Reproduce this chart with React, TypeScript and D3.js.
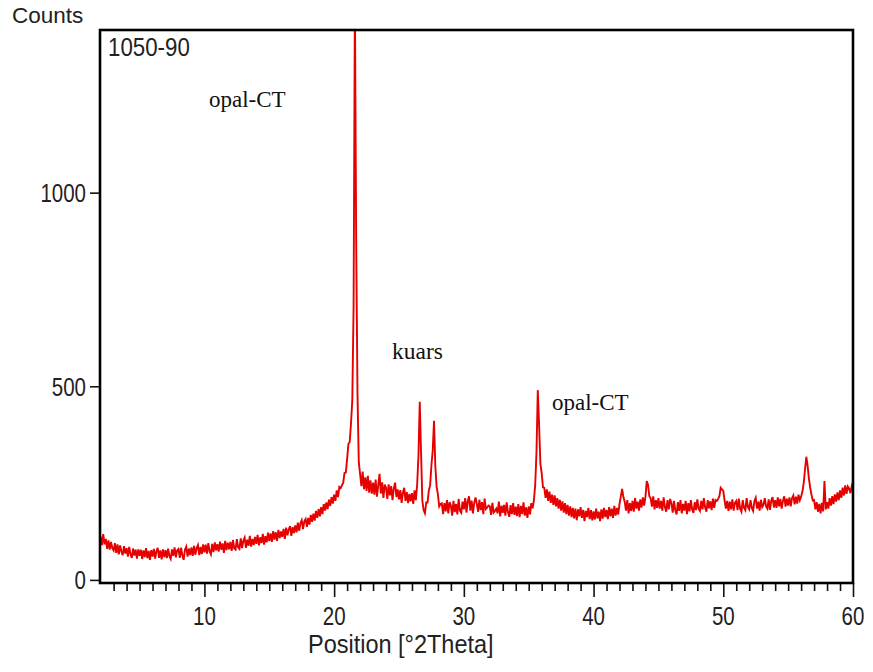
import React, { useEffect, useRef } from 'react';
import * as d3 from 'd3';

// XRD scan, sample 1050-90 (step 0.1 °2Theta starting at 2.0)
const startPos = 2.0;
const stepSize = 0.1;
const counts = [
  112, 90, 118, 92, 106, 80, 102, 78, 98, 82,
  76, 95, 70, 92, 66, 89, 74, 64, 87, 68,
  82, 60, 85, 66, 57, 81, 63, 78, 55, 79,
  62, 78, 54, 76, 59, 82, 56, 75, 52, 77,
  60, 80, 55, 74, 83, 57, 76, 53, 79, 59,
  77, 56, 81, 61, 54, 79, 62, 84, 58, 76,
  80, 57, 83, 63, 52, 78, 86, 60, 81, 64,
  84, 62, 88, 65, 82, 90, 64, 85, 67, 92,
  71, 91, 68, 95, 74, 66, 93, 72, 97, 76,
  92, 73, 99, 78, 94, 70, 101, 77, 96, 79,
  98, 75, 103, 81, 78, 105, 84, 80, 107, 82,
  101, 109, 83, 104, 88, 114, 86, 106, 90, 111,
  93, 116, 89, 110, 95, 119, 91, 113, 97, 122,
  100, 120, 98, 126, 104, 123, 101, 129, 108, 125,
  111, 132, 106, 135, 115, 130, 139, 114, 136, 121,
  141, 123, 148, 127, 146, 154, 131, 151, 157, 137,
  160, 143, 168, 150, 171, 153, 178, 160, 183, 164,
  188, 170, 196, 179, 200, 183, 207, 191, 214, 197,
  220, 204, 231, 214, 240, 237, 244, 251, 276, 277,
  312, 351, 356, 404, 464, 706, 1500, 874, 481, 304,
  274, 242, 280, 234, 265, 230, 269, 225, 257, 223,
  251, 220, 259, 215, 244, 274, 223, 252, 212, 246,
  238, 209, 247, 218, 242, 206, 236, 251, 214, 234,
  208, 232, 199, 225, 238, 204, 227, 198, 222, 203,
  224, 196, 231, 206, 246, 320, 460, 330, 204, 180,
  172, 200, 200, 231, 244, 296, 334, 411, 294, 241,
  221, 190, 196, 198, 170, 198, 177, 206, 172, 201,
  192, 166, 204, 175, 196, 169, 209, 178, 173, 202,
  182, 211, 174, 203, 216, 179, 205, 172, 199, 213,
  196, 176, 207, 180, 201, 170, 210, 183, 187, 192,
  190, 168, 199, 174, 178, 184, 172, 202, 164, 192,
  173, 194, 166, 200, 175, 163, 193, 170, 198, 168,
  189, 165, 196, 162, 191, 170, 200, 166, 187, 160,
  190, 169, 198, 185, 205, 245, 330, 490, 400, 300,
  276, 239, 238, 212, 234, 204, 228, 199, 220, 194,
  218, 190, 211, 184, 207, 179, 203, 174, 198, 170,
  194, 166, 190, 162, 186, 159, 184, 154, 182, 164,
  188, 160, 181, 152, 178, 162, 186, 157, 180, 154,
  177, 156, 184, 159, 176, 152, 182, 158, 186, 162,
  181, 157, 188, 164, 184, 160, 191, 166, 186, 169,
  196, 215, 235, 214, 202, 179, 206, 172, 198, 178,
  204, 176, 211, 184, 202, 179, 208, 187, 213, 192,
  215, 255, 245, 216, 211, 189, 216, 182, 206, 186,
  211, 184, 204, 179, 213, 188, 176, 206, 182, 209,
  198, 174, 204, 180, 169, 201, 178, 206, 172, 196,
  179, 204, 170, 198, 177, 206, 182, 173, 201, 180,
  208, 184, 178, 204, 182, 211, 187, 176, 206, 185,
  203, 180, 210, 186, 206, 204, 209, 216, 238, 234,
  230, 205, 184, 204, 178, 202, 182, 208, 179, 199,
  204, 180, 210, 184, 176, 206, 186, 180, 211, 188,
  182, 206, 186, 178, 204, 212, 184, 202, 179, 207,
  188, 194, 211, 190, 184, 208, 181, 205, 214, 187,
  206, 186, 213, 190, 209, 184, 204, 216, 189, 210,
  192, 213, 190, 211, 218, 195, 215, 197, 220, 206,
  215, 228, 250, 285, 318, 295, 262, 238, 220, 205,
  206, 182, 201, 176, 196, 172, 199, 177, 255, 182,
  201, 184, 211, 192, 216, 196, 221, 202, 226, 206,
  231, 212, 238, 218, 244, 222, 241, 236, 224, 242,
  232
];

const xMajorTicks = [10, 20, 30, 40, 50, 60];
const yTicks = [0, 500, 1000];

const peakLabels = [
  { text: 'opal-CT', x: 209, y: 107, size: 23 },
  { text: 'kuars', x: 392, y: 359, size: 23.5 },
  { text: 'opal-CT', x: 552, y: 410, size: 23 }
];

const SANS = '"Liberation Sans", Arial, sans-serif';
const SERIF = '"Liberation Serif", "Times New Roman", serif';

const App = () => {
  const ref = useRef<SVGSVGElement | null>(null);

  useEffect(() => {
    const width = 873;
    const height = 672;
    const left = 100, right = 853, top = 30, bottom = 583;

    const svg = d3.select(ref.current);
    svg.selectAll('*').remove();
    svg.attr('width', width).attr('height', height);

    const x = d3.scaleLinear().domain([1.95, 60]).range([left, right]);
    const y = d3.scaleLinear().domain([-8, 1420]).range([bottom, top]);

    const data = counts.map((c, i) => ({ pos: startPos + i * stepSize, c }));

    svg.append('defs').append('clipPath').attr('id', 'plotClip')
      .append('rect')
      .attr('x', left).attr('y', top)
      .attr('width', right - left).attr('height', bottom - top);

    const line = d3.line<{ pos: number; c: number }>()
      .x(d => x(d.pos))
      .y(d => y(d.c));

    svg.append('path')
      .datum(data)
      .attr('clip-path', 'url(#plotClip)')
      .attr('fill', 'none')
      .attr('stroke', '#e60000')
      .attr('stroke-width', 1.9)
      .attr('stroke-linejoin', 'miter')
      .attr('d', line);

    // ticks
    const minor = d3.range(3, 61).filter(v => v % 10 !== 0);
    const xMinorAxis = svg.append('g')
      .attr('transform', `translate(0,${bottom})`)
      .call(d3.axisBottom(x).tickValues(minor).tickSize(8).tickFormat(() => ''));
    const xMajorAxis = svg.append('g')
      .attr('transform', `translate(0,${bottom})`)
      .call(d3.axisBottom(x).tickValues(xMajorTicks).tickSize(14).tickFormat(() => ''));
    const yAxis = svg.append('g')
      .attr('transform', `translate(${left},0)`)
      .call(d3.axisLeft(y).tickValues(yTicks).tickSize(10).tickFormat(() => ''));
    [xMinorAxis, xMajorAxis, yAxis].forEach(g => {
      g.select('.domain').remove();
      g.selectAll('line').attr('stroke', '#111').attr('stroke-width', 1.6);
    });

    // frame
    svg.append('rect')
      .attr('x', left).attr('y', top)
      .attr('width', right - left).attr('height', bottom - top)
      .attr('fill', 'none')
      .attr('stroke', '#000')
      .attr('stroke-width', 2.6);

    // tick labels (font in the picture is tall and narrow)
    svg.selectAll('text.xlab')
      .data(xMajorTicks)
      .enter()
      .append('text')
      .attr('class', 'xlab')
      .attr('transform', d => `translate(${x(d)},625) scale(1,1.25)`)
      .attr('text-anchor', 'middle')
      .attr('font-family', SANS)
      .attr('font-size', 20.5)
      .attr('fill', '#222')
      .text(d => d);

    svg.selectAll('text.ylab')
      .data(yTicks)
      .enter()
      .append('text')
      .attr('class', 'ylab')
      .attr('transform', d => `translate(86,${y(d) + 9.3}) scale(1,1.3)`)
      .attr('text-anchor', 'end')
      .attr('font-family', SANS)
      .attr('font-size', 20.5)
      .attr('fill', '#222')
      .text(d => d);

    svg.append('text')
      .attr('transform', 'translate(308,653) scale(1,1.08)')
      .attr('font-family', SANS)
      .attr('font-size', 23.5)
      .attr('fill', '#222')
      .text('Position [°2Theta]');

    svg.append('text')
      .attr('x', 12).attr('y', 23)
      .attr('font-family', SANS)
      .attr('font-size', 22.5)
      .attr('fill', '#222')
      .text('Counts');

    svg.append('text')
      .attr('transform', 'translate(108,56) scale(1,1.12)')
      .attr('font-family', SANS)
      .attr('font-size', 22.3)
      .attr('fill', '#222')
      .text('1050-90');

    svg.selectAll('text.peak')
      .data(peakLabels)
      .enter()
      .append('text')
      .attr('class', 'peak')
      .attr('x', d => d.x).attr('y', d => d.y)
      .attr('font-family', SERIF)
      .attr('font-size', d => d.size)
      .attr('fill', '#111')
      .text(d => d.text);
  }, []);

  return (
    <div style={{ position: 'absolute', left: 0, top: 0 }}>
      <svg ref={ref} style={{ display: 'block' }}></svg>
    </div>
  );
};

export default App;
